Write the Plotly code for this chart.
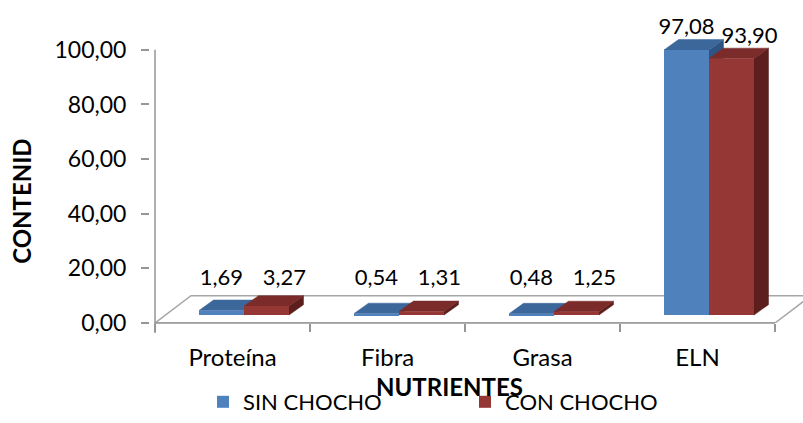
import plotly.graph_objects as go

# ---- data -------------------------------------------------------------
categories = ["Proteína", "Fibra", "Grasa", "ELN"]
sin_chocho = [1.69, 0.54, 0.48, 97.08]
con_chocho = [3.27, 1.31, 1.25, 93.90]
y_tick_values = [0, 20, 40, 60, 80, 100]
series_names = ["SIN CHOCHO", "CON CHOCHO"]

# ---- geometry of the figure (pixels) ------------------------------------
W, H = 803, 423
L, R, T, B = 150, 0, 30, 98
plot_w = W - L - R
plot_h = H - T - B
PX_X = 155.0          # pixels per category
PX_Y = 2.75           # pixels per value unit

x_lo = -0.5 - 5 / PX_X
x_hi = x_lo + plot_w / PX_X
y_lo, y_hi = 0.0, plot_h / PX_Y

# the bar row sits a little behind the front edge of the floor
SX, SY = 11.5 / PX_X, 8.0 / PX_Y
bar_x_range = [x_lo - SX, x_hi - SX]
bar_y_range = [y_lo - SY, y_hi - SY]

BW = 45 / PX_X        # bar width (category units)
DX = 14.5 / PX_X      # bar depth, horizontal component
DY = 10.5 / PX_Y      # bar depth, vertical component
FLOOR_DX = 36 / PX_X  # floor depth
FLOOR_DY = 27.5 / PX_Y

FONT = "Lato"
BLUE, BLUE_TOP, BLUE_SIDE = "#4F81BD", "#3C679B", "#2D5482"
RED, RED_TOP, RED_SIDE = "#953735", "#7A2B2A", "#5C1F1E"
AXIS_GREY = "#969696"


def top_face(xl, xr, v):
    return [xl, xr, xr + DX, xl + DX, xl, None], [v, v, v + DY, v + DY, v, None]


def side_face(xr, v):
    return [xr, xr + DX, xr + DX, xr, xr, None], [0, DY, v + DY, v, 0, None]


def faces(values, left_shift, kind):
    xs, ys = [], []
    for i, v in enumerate(values):
        xl = i + left_shift
        xr = xl + BW
        px, py = side_face(xr, v) if kind == "side" else top_face(xl, xr, v)
        xs += px
        ys += py
    return xs, ys


fig = go.Figure()

# depth faces (drawn underneath the front faces)
for values, shift, side_col, top_col in [
    (sin_chocho, -BW, BLUE_SIDE, BLUE_TOP),
    (con_chocho, 0.0, RED_SIDE, RED_TOP),
]:
    for kind, col in [("side", side_col), ("top", top_col)]:
        fx, fy = faces(values, shift, kind)
        fig.add_trace(go.Scatter(
            x=fx, y=fy, mode="lines", fill="toself", fillcolor=col,
            line=dict(color=col, width=0.5), hoverinfo="skip",
            showlegend=False, xaxis="x2", yaxis="y2"))

# front faces of the bars
for name, values, shift, col in [
    (series_names[0], sin_chocho, -BW, BLUE),
    (series_names[1], con_chocho, 0.0, RED),
]:
    fig.add_trace(go.Bar(
        x=list(range(len(categories))), y=values, width=BW, offset=shift,
        marker=dict(color=col, line=dict(width=0)), name=name,
        xaxis="x3", yaxis="y3"))

# value labels
LABEL_FLOOR = 5.2
for values, shift, off in [(sin_chocho, -BW, 0.0), (con_chocho, 0.0, 18 / PX_X)]:
    fig.add_trace(go.Scatter(
        x=[i + shift + BW / 2 + off for i in range(len(values))],
        y=[max(v, LABEL_FLOOR) + DY for v in values],
        text=[f"{v:.2f}".replace(".", ",") for v in values],
        mode="text", textposition="top center",
        textfont=dict(family=FONT, size=22, color="#000000"),
        showlegend=False, hoverinfo="skip", cliponaxis=False,
        xaxis="x3", yaxis="y3"))

hidden = dict(visible=False, showgrid=False, zeroline=False)
fig.update_layout(
    width=W, height=H, margin=dict(l=L, r=R, t=T, b=B),
    paper_bgcolor="white", plot_bgcolor="white",
    separators=",.",
    font=dict(family=FONT, size=23, color="#000000"),
    barmode="overlay",
    xaxis=dict(
        range=[x_lo, x_hi], anchor="y", tickmode="array",
        tickvals=list(range(len(categories))), ticktext=categories,
        ticks="", showline=False, showgrid=False, zeroline=False,
        ticklabelstandoff=18, tickfont=dict(family=FONT, size=24),
        minor=dict(tickmode="array", tickvals=[-0.5, 0.5, 1.5, 2.5, 3.5],
                   ticks="outside", ticklen=8, tickcolor=AXIS_GREY,
                   tickwidth=1.5, showgrid=False)),
    yaxis=dict(
        range=[y_lo, y_hi], anchor="x", tickmode="array",
        tickvals=y_tick_values, tickformat=".2f",
        ticks="outside", ticklen=8, tickcolor=AXIS_GREY, tickwidth=1.5,
        showline=False, showgrid=False, zeroline=False,
        ticklabelstandoff=10, tickfont=dict(family=FONT, size=23)),
    xaxis2=dict(range=bar_x_range, overlaying="x", anchor="y2", **hidden),
    yaxis2=dict(range=bar_y_range, overlaying="y", anchor="x2", **hidden),
    xaxis3=dict(range=bar_x_range, overlaying="x", anchor="y3", **hidden),
    yaxis3=dict(range=bar_y_range, overlaying="y", anchor="x3", **hidden),
    legend=dict(
        orientation="h", x=(203 - L) / plot_w, y=(325 - 405) / plot_h,
        xanchor="left", yanchor="middle", entrywidth=217,
        entrywidthmode="pixels", bgcolor="rgba(0,0,0,0)",
        font=dict(family=FONT, size=22), traceorder="normal"),
    showlegend=True,
    annotations=[
        dict(text="<b>NUTRIENTES</b>", xref="paper", yref="paper",
             x=(449 - L) / plot_w, y=(325 - 389) / plot_h,
             xanchor="center", yanchor="middle",
             showarrow=False, font=dict(family=FONT, size=24)),
        dict(text="<b>CONTENID</b>", xref="paper", yref="paper",
             x=(22 - L) / plot_w, y=(325 - 203) / plot_h, textangle=-90,
             xanchor="center", yanchor="middle",
             showarrow=False, font=dict(family=FONT, size=24)),
    ],
    shapes=[
        # floor of the plot
        dict(type="path", xref="x", yref="y",
             path=(f"M -0.5,0 L 3.5,0 L {3.5 + FLOOR_DX},{FLOOR_DY} "
                   f"L {-0.5 + FLOOR_DX},{FLOOR_DY} Z"),
             line=dict(color="#A6A6A6", width=1.5), fillcolor="rgba(0,0,0,0)",
             layer="below"),
        # value axis line
        dict(type="line", xref="x", yref="paper", x0=-0.5, x1=-0.5,
             y0=-10 / plot_h, y1=100 / y_hi,
             line=dict(color=AXIS_GREY, width=1.5)),
        # category axis line
        dict(type="line", xref="x", yref="paper", x0=-0.5, x1=3.5,
             y0=0, y1=0, line=dict(color=AXIS_GREY, width=1.5)),
    ],
)

fig.write_html("out.html")
